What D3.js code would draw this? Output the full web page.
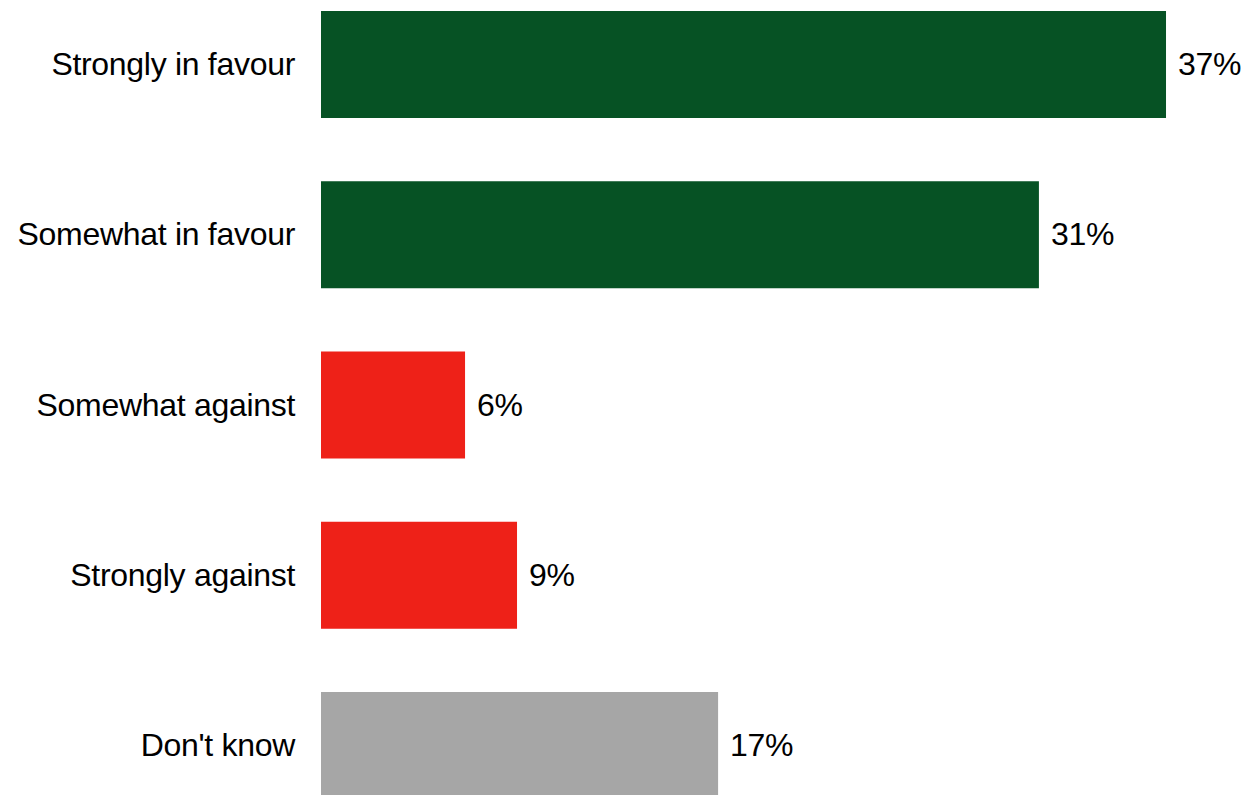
<!DOCTYPE html>
<html>
<head>
<meta charset="utf-8">
<script src="https://cdn.jsdelivr.net/npm/d3@7"></script>
<style>
  html, body { margin: 0; padding: 0; background: #ffffff; }
  svg { display: block; }
  text { font-family: "Liberation Sans", Arial, sans-serif; fill: #000; }
</style>
</head>
<body>
<div id="chart"></div>
<script>
const categories = ["Strongly in favour", "Somewhat in favour", "Somewhat against", "Strongly against", "Don't know"];
const values = [36.9, 31.35, 6.29, 8.56, 17.34];
const valueLabels = ["37%", "31%", "6%", "9%", "17%"];
const colors = ["#065224", "#065224", "#EE2118", "#EE2118", "#A6A6A6"];

const W = 1251, H = 795;
const svg = d3.select("#chart").append("svg").attr("width", W).attr("height", H);

const x = d3.scaleLinear().domain([0, 40]).range([321, 321 + 916]);
const y = d3.scaleBand().domain(categories).range([11, 799]).paddingInner(0.3715).paddingOuter(0);

const rows = categories.map((c, i) => ({ c, v: values[i], label: valueLabels[i], color: colors[i] }));

svg.selectAll("rect.bar").data(rows).join("rect")
  .attr("class", "bar")
  .attr("x", x(0))
  .attr("y", d => y(d.c))
  .attr("width", d => x(d.v) - x(0))
  .attr("height", y.bandwidth())
  .attr("fill", d => d.color);

svg.selectAll("text.cat").data(rows).join("text")
  .attr("class", "cat")
  .attr("x", 295)
  .attr("y", d => y(d.c) + y.bandwidth() / 2)
  .attr("dy", "0.33em")
  .attr("text-anchor", "end")
  .style("font-size", "32px")
  .style("letter-spacing", "-0.3px")
  .text(d => d.c);

svg.selectAll("text.val").data(rows).join("text")
  .attr("class", "val")
  .attr("x", d => x(d.v) + 12)
  .attr("y", d => y(d.c) + y.bandwidth() / 2)
  .attr("dy", "0.33em")
  .style("font-size", "32px")
  .style("letter-spacing", "-0.3px")
  .text(d => d.label);
</script>
</body>
</html>
